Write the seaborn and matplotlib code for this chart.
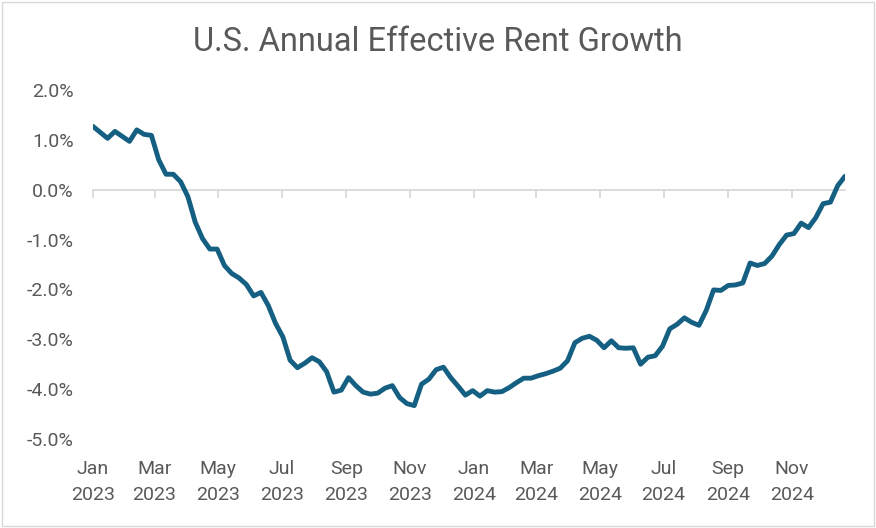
import matplotlib
matplotlib.use("Agg")
import matplotlib.pyplot as plt
import matplotlib.dates as mdates
from matplotlib.patches import Rectangle
from matplotlib.ticker import FuncFormatter, FixedLocator
import seaborn as sns
import pandas as pd
import numpy as np

title = "U.S. Annual Effective Rent Growth"
start_date = "2023-01-01"
growth_pct = [
    1.27, 1.15, 1.03, 1.17, 1.07, 0.97, 1.20, 1.11, 1.09, 0.60,
    0.31, 0.31, 0.16, -0.14, -0.65, -0.98, -1.19, -1.19, -1.52, -1.68,
    -1.77, -1.90, -2.13, -2.06, -2.32, -2.68, -2.95, -3.42, -3.57, -3.48,
    -3.37, -3.45, -3.65, -4.06, -4.02, -3.77, -3.93, -4.06, -4.10, -4.08,
    -3.98, -3.93, -4.17, -4.29, -4.33, -3.90, -3.80, -3.61, -3.56, -3.77,
    -3.94, -4.12, -4.03, -4.14, -4.03, -4.06, -4.05, -3.97, -3.87, -3.78,
    -3.78, -3.73, -3.69, -3.64, -3.58, -3.43, -3.07, -2.98, -2.94, -3.02,
    -3.17, -3.03, -3.17, -3.18, -3.17, -3.50, -3.36, -3.33, -3.14, -2.79,
    -2.70, -2.57, -2.66, -2.72, -2.42, -2.01, -2.02, -1.92, -1.91, -1.87,
    -1.47, -1.52, -1.48, -1.33, -1.10, -0.91, -0.88, -0.67, -0.76, -0.56,
    -0.28, -0.25, 0.08, 0.27,
]
y_ticks = [2, 1, 0, -1, -2, -3, -4, -5]
x_tick_dates = ["2023-01-01", "2023-03-01", "2023-05-01", "2023-07-01", "2023-09-01",
                "2023-11-01", "2024-01-01", "2024-03-01", "2024-05-01", "2024-07-01",
                "2024-09-01", "2024-11-01"]

dates = pd.date_range(start_date, periods=len(growth_pct), freq="7D")
df = pd.DataFrame({"date": dates, "growth": growth_pct})

sns.set_theme(style="white")
plt.rcParams["font.family"] = ["Roboto", "DejaVu Sans"]

text_color = "#595959"
line_color = "#156082"
grid_color = "#D9D9D9"

fig = plt.figure(figsize=(8.76, 5.28), dpi=100)
ax = fig.add_axes([93/876, 1-439/528, (845-93)/876, (439-90)/528])

sns.lineplot(data=df, x="date", y="growth", ax=ax, color=line_color,
             linewidth=3.5, solid_joinstyle="round", solid_capstyle="round")

ax.set_ylim(-5, 2)
ax.set_xlim(dates[0], dates[-1])
ax.set_yticks(y_ticks)
ax.yaxis.set_major_formatter(FuncFormatter(lambda v, p: f"{v:.1f}%".replace("\u2212", "-")))

tick_locs = mdates.date2num(pd.to_datetime(x_tick_dates))
ax.xaxis.set_major_locator(FixedLocator(tick_locs))
ax.xaxis.set_major_formatter(FuncFormatter(lambda v, p: mdates.num2date(v).strftime("%b\n%Y")))

ax.set_xlabel("")
ax.set_ylabel("")
for s in ax.spines.values():
    s.set_visible(False)
ax.tick_params(axis="both", length=0, colors=text_color, labelsize=14)
ax.tick_params(axis="x", pad=15)
ax.tick_params(axis="y", pad=14)
for lab in ax.get_xticklabels():
    lab.set_linespacing(1.55)

# zero axis line with tick marks (Excel-style horizontal axis crossing at 0)
zero_frac = (0 - (-5)) / (2 - (-5))
sec = ax.secondary_xaxis(zero_frac)
sec.set_xticks(tick_locs)
sec.set_xticklabels([])
sec.tick_params(axis="x", direction="in", length=6, width=1.3, color=grid_color)
for k, sp in sec.spines.items():
    sp.set_color(grid_color)
    sp.set_linewidth(1.3)
sec.set_zorder(0)
ax.set_zorder(1)
ax.patch.set_alpha(0)

fig.text(0.5, 1-42/528, title, ha="center", va="center", fontsize=23.5, color=text_color)

fig.patches.append(Rectangle((2/876, 2/528), 1-4/876, 1-4/528, transform=fig.transFigure,
                             fill=False, edgecolor="#D9D9D9", linewidth=1.0))

fig.savefig("out.png", dpi=100)
